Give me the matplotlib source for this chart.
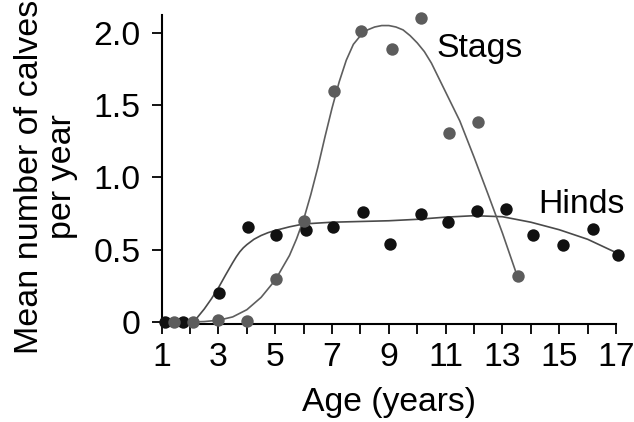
import matplotlib
matplotlib.use("Agg")
import matplotlib.pyplot as plt

# ---- data ----
hind_age = [1.1, 1.75, 3.03, 4.03, 5.03, 6.08, 7.03, 8.08, 9.04, 10.12, 11.1, 12.1, 13.14, 14.07, 15.12, 16.18, 17.08]
hind_calves = [0.0, 0.0, 0.20, 0.66, 0.60, 0.635, 0.66, 0.76, 0.54, 0.75, 0.69, 0.765, 0.78, 0.60, 0.53, 0.645, 0.466]

stag_age = [1.43, 2.11, 3.0, 3.99, 5.03, 6.02, 7.08, 8.03, 9.12, 10.13, 11.12, 12.15, 13.54]
stag_calves = [0.0, 0.0, 0.014, 0.01, 0.30, 0.70, 1.60, 2.01, 1.89, 2.10, 1.31, 1.38, 0.32]

# fitted curves as drawn in the reference
stag_fit_age = [1.0, 2.0, 2.5, 3.0, 3.5, 4.0, 4.5, 5.0, 5.5, 5.75, 6.0, 6.25, 6.5, 6.75, 7.0, 7.25, 7.5,
                7.75, 8.0, 8.25, 8.5, 8.75, 9.0, 9.25, 9.5, 9.75, 10.0, 10.25, 10.5, 11.0, 11.5,
                12.0, 12.5, 13.0, 13.5]
stag_fit = [0.0, 0.0, 0.003, 0.012, 0.035, 0.085, 0.17, 0.29, 0.46, 0.575, 0.71, 0.88, 1.07, 1.28, 1.48, 1.66, 1.81,
            1.92, 1.98, 2.02, 2.04, 2.05, 2.05, 2.04, 2.02, 1.98, 1.93, 1.87, 1.79, 1.59, 1.39,
            1.14, 0.88, 0.615, 0.33]

hind_fit_age = [1.0, 2.0, 2.25, 2.5, 2.75, 3.0, 3.25, 3.5, 3.625, 3.75, 3.875, 4.0, 4.25, 4.5, 4.75, 5.0, 5.5,
                6.0, 7.0, 8.0, 9.0, 10.0, 11.0, 12.0, 13.0, 14.0, 15.0, 16.0, 17.0]
hind_fit = [0.0, 0.0, 0.03, 0.09, 0.16, 0.237, 0.325, 0.41, 0.45, 0.485, 0.513, 0.535, 0.572, 0.598, 0.618, 0.633, 0.658,
            0.678, 0.69, 0.695, 0.70, 0.71, 0.725, 0.735, 0.728, 0.69, 0.638, 0.572, 0.48]

x_ticks = list(range(1, 18))
x_ticklabels = [str(v) if v % 2 == 1 else "" for v in x_ticks]
y_ticks = [0, 0.5, 1.0, 1.5, 2.0]
y_ticklabels = ["0", "0.5", "1.0", "1.5", "2.0"]

plt.rcParams["font.family"] = ["Liberation Sans", "DejaVu Sans"]
FS = 24.3

fig = plt.figure(figsize=(6.34, 4.22), dpi=100)
ax = fig.add_axes([161.7 / 634, 1 - 324 / 422, (616 - 161.7) / 634, (324 - 15) / 422])

ax.plot(hind_fit_age, hind_fit, color="#4a4a4a", lw=1.2, zorder=2)
ax.plot(stag_fit_age, stag_fit, color="#5e5e5e", lw=1.2, zorder=2)
ax.scatter(hind_age, hind_calves, s=80, color="#111111", zorder=3, linewidths=0, clip_on=False)
ax.scatter(stag_age, stag_calves, s=80, color="#5c5c5c", zorder=4, linewidths=0, clip_on=False)

ax.text(10.68, 1.83, "Stags", fontsize=FS, ha="left", va="baseline")
ax.text(14.26, 0.752, "Hinds", fontsize=FS, ha="left", va="baseline")

ax.set_xlim(1, 17)
ax.set_ylim(-0.014, 2.123)
ax.set_xticks(x_ticks)
ax.set_xticklabels(x_ticklabels)
ax.set_yticks(y_ticks)
ax.set_yticklabels(y_ticklabels)

for s in ["top", "right"]:
    ax.spines[s].set_visible(False)
for s in ["left", "bottom"]:
    ax.spines[s].set_linewidth(1.5)
ax.tick_params(axis="both", direction="out", length=7, width=1.3, labelsize=FS, color="black")
ax.tick_params(axis="x", pad=6)
ax.tick_params(axis="y", pad=8)

ax.set_xlabel("Age (years)", fontsize=FS, labelpad=10)
fig.text(46 / 634, 1 - 177 / 422, "Mean number of calves\nper year", rotation=90,
         ha="center", va="center", multialignment="center", fontsize=24.5, linespacing=1.12)

fig.savefig("out.png", dpi=100)
